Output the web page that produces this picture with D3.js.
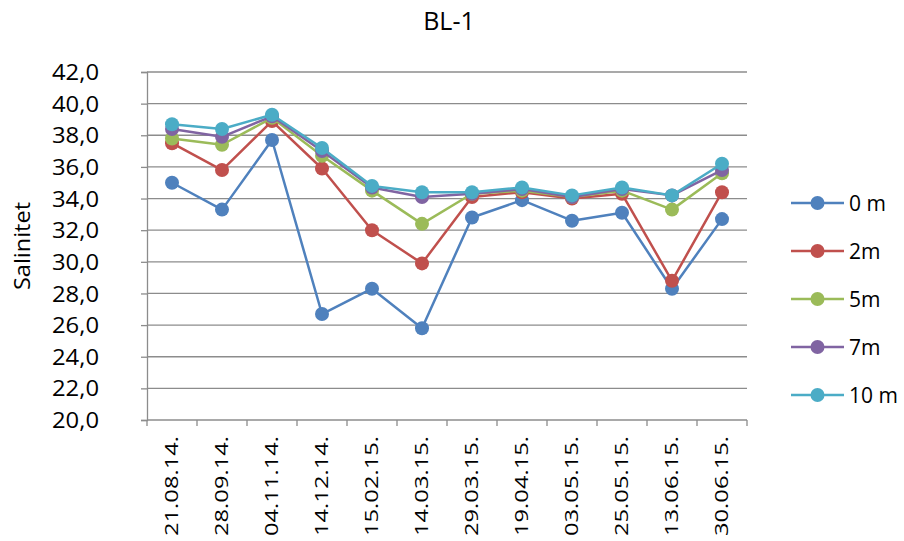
<!DOCTYPE html>
<html>
<head>
<meta charset="utf-8">
<script src="https://cdn.jsdelivr.net/npm/d3@7"></script>
<style>
  html, body { margin: 0; padding: 0; background: #fff; }
  svg { display: block; font-family: "Open Sans", "Liberation Sans", sans-serif; }
</style>
</head>
<body>
<svg id="chart" width="904" height="541"></svg>
<script>
// Sampling dates (category axis)
const dates = ["21.08.14.", "28.09.14.", "04.11.14.", "14.12.14.", "15.02.15.", "14.03.15.",
               "29.03.15.", "19.04.15.", "03.05.15.", "25.05.15.", "13.06.15.", "30.06.15."];

// Salinity by depth
const depthNames = ["0 m", "2m", "5m", "7m", "10 m"];
const s0m  = [35.0, 33.3, 37.7, 26.7, 28.3, 25.8, 32.8, 33.9, 32.6, 33.1, 28.3, 32.7];
const s2m  = [37.5, 35.8, 38.9, 35.9, 32.0, 29.9, 34.1, 34.4, 34.0, 34.3, 28.8, 34.4];
const s5m  = [37.8, 37.4, 39.1, 36.7, 34.5, 32.4, 34.3, 34.5, 34.1, 34.5, 33.3, 35.6];
const s7m  = [38.4, 37.9, 39.2, 37.0, 34.7, 34.1, 34.3, 34.6, 34.1, 34.6, 34.2, 35.8];
const s10m = [38.7, 38.4, 39.3, 37.2, 34.8, 34.4, 34.4, 34.7, 34.2, 34.7, 34.2, 36.2];
const seriesValues = [s0m, s2m, s5m, s7m, s10m];
const colors = ["#4F81BD", "#C0504D", "#9BBB59", "#8064A2", "#4BACC6"];

// Y axis ticks
const yTicks = d3.range(20, 42.01, 2);

const svg = d3.select("#chart");
const plot = { left: 147, right: 747, top: 72, bottom: 420 };
const gridColor = "#8c8c8c";

const x = d3.scaleBand().domain(dates).range([plot.left, plot.right]);
const y = d3.scaleLinear().domain([20, 42]).range([plot.bottom, plot.top]);
const fmt = v => d3.format(".1f")(v).replace(".", ",");

// Horizontal grid lines
svg.append("g")
  .selectAll("line")
  .data(yTicks.filter(t => t > 20))
  .join("line")
  .attr("x1", plot.left).attr("x2", plot.right)
  .attr("y1", d => y(d)).attr("y2", d => y(d))
  .attr("stroke", gridColor).attr("stroke-width", 1.3);

// Y axis
const yAxis = svg.append("g")
  .attr("transform", `translate(${plot.left},0)`)
  .call(d3.axisLeft(y).tickValues(yTicks).tickFormat(fmt).tickSize(6));
yAxis.select(".domain").attr("stroke", gridColor).attr("stroke-width", 1.3);
yAxis.selectAll(".tick line").attr("stroke", gridColor).attr("stroke-width", 1.3);
yAxis.selectAll(".tick text")
  .attr("font-size", 21).attr("fill", "#000")
  .attr("font-family", "'Open Sans', sans-serif")
  .attr("x", -(plot.left - 99)).attr("text-anchor", "end").attr("dy", "0.36em")
  .attr("textLength", 47).attr("lengthAdjust", "spacingAndGlyphs");

// X axis with ticks at category boundaries
const xAxisG = svg.append("g").attr("transform", `translate(0,${plot.bottom})`);
xAxisG.append("line")
  .attr("x1", plot.left).attr("x2", plot.right)
  .attr("stroke", gridColor).attr("stroke-width", 1.3);
const boundaries = dates.map(d => x(d)).concat([x(dates[dates.length - 1]) + x.bandwidth()]);
xAxisG.selectAll("line.tick")
  .data(boundaries)
  .join("line")
  .attr("class", "tick")
  .attr("x1", d => d).attr("x2", d => d)
  .attr("y1", 0).attr("y2", 6)
  .attr("stroke", gridColor).attr("stroke-width", 1.3);
xAxisG.selectAll("text")
  .data(dates)
  .join("text")
  .attr("transform", d => `translate(${x(d) + x.bandwidth() / 2},16) rotate(-90)`)
  .attr("text-anchor", "end")
  .attr("dy", "0.36em")
  .attr("font-size", 18)
  .attr("fill", "#000")
  .attr("textLength", 100)
  .attr("lengthAdjust", "spacingAndGlyphs")
  .text(d => d);

// Series lines and markers
const line = d3.line()
  .x((v, i) => x(dates[i]) + x.bandwidth() / 2)
  .y(v => y(v));

seriesValues.forEach((vals, si) => {
  const g = svg.append("g");
  g.append("path")
    .datum(vals)
    .attr("d", line)
    .attr("fill", "none")
    .attr("stroke", colors[si])
    .attr("stroke-width", 2.5)
    .attr("stroke-linejoin", "round");
  g.selectAll("circle")
    .data(vals)
    .join("circle")
    .attr("cx", (v, i) => x(dates[i]) + x.bandwidth() / 2)
    .attr("cy", v => y(v))
    .attr("r", 7)
    .attr("fill", colors[si]);
});

// Title
svg.append("text")
  .attr("x", 449).attr("y", 30)
  .attr("text-anchor", "middle")
  .attr("font-size", 25)
  .attr("fill", "#000")
  .text("BL-1");

// Y axis title
svg.append("text")
  .attr("transform", "translate(22,246) rotate(-90)")
  .attr("text-anchor", "middle")
  .attr("dy", "0.36em")
  .attr("font-size", 21)
  .attr("fill", "#000")
  .attr("textLength", 88)
  .attr("lengthAdjust", "spacingAndGlyphs")
  .text("Salinitet");

// Legend
const legend = svg.append("g");
depthNames.forEach((name, i) => {
  const ly = 203 + i * 48;
  legend.append("line")
    .attr("x1", 791).attr("x2", 844)
    .attr("y1", ly).attr("y2", ly)
    .attr("stroke", colors[i]).attr("stroke-width", 2.5);
  legend.append("circle")
    .attr("cx", 817.5).attr("cy", ly).attr("r", 7)
    .attr("fill", colors[i]);
  legend.append("text")
    .attr("x", 849).attr("y", ly)
    .attr("dy", "0.36em")
    .attr("font-size", 21)
    .attr("fill", "#000")
    .text(name);
});
</script>
</body>
</html>
